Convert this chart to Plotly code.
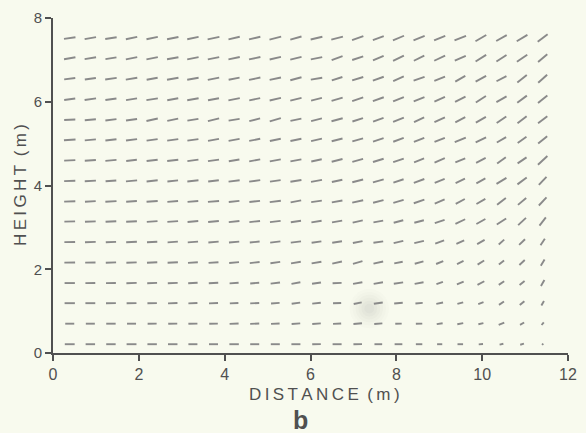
import math
import plotly.graph_objects as go

# Grid of measurement points (m)
x_pos = [0.39, 0.87, 1.35, 1.83, 2.31, 2.79, 3.26, 3.74, 4.22, 4.70, 5.18, 5.66,
         6.14, 6.62, 7.10, 7.58, 8.05, 8.53, 9.01, 9.49, 9.97, 10.45, 10.93, 11.41]
y_pos = [0.21, 0.70, 1.19, 1.67, 2.16, 2.65, 3.14, 3.62, 4.11, 4.60, 5.09, 5.57,
         6.06, 6.55, 7.04, 7.52]

# Flow inclination (degrees above horizontal), one row per height, bottom to top
angle_deg = [
    [0, 0, 0, 0, 0, 0, 0, 0, 0, 0, 0, 0, 1, 0, 1, 0, 0, 0, 0, 0, 4, 12, 16, 45],
    [0, 0, 0, 0, 1, 1, 1, 1, 2, 2, 2, 4, 4, 3, 5, 5, 2, 2, 9, 11, 12, 22, 29, 50],
    [0, 0, 1, 1, 1, 2, 2, 2, 3, 3, 4, 8, 6, 2, 12, 8, 5, 5, 11, 15, 20, 34, 40, 60],
    [0, 1, 1, 2, 2, 2, 3, 3, 4, 5, 7, 10, 8, 2, 10, 10, 8, 10, 19, 22, 28, 34, 39, 60],
    [1, 1, 2, 2, 3, 3, 4, 4, 5, 6, 8, 9, 10, 12, 16, 12, 11, 15, 22, 27, 32, 37, 43, 59],
    [1, 2, 2, 3, 3, 4, 4, 5, 5, 6, 7, 7, 8, 9, 11, 8, 13, 13, 20, 24, 30, 41, 44, 56],
    [1, 2, 3, 3, 4, 4, 5, 5, 6, 6, 7, 8, 9, 10, 12, 10, 15, 15, 18, 25, 29, 33, 43, 52],
    [2, 3, 3, 4, 4, 5, 5, 5, 6, 6, 7, 11, 8, 10, 12, 14, 16, 19, 23, 28, 30, 38, 40, 47],
    [2, 3, 4, 5, 6, 6, 6, 7, 7, 8, 8, 9, 10, 12, 14, 16, 18, 20, 22, 25, 29, 31, 37, 47],
    [3, 4, 5, 6, 7, 7, 8, 8, 9, 10, 11, 11, 12, 14, 15, 17, 19, 21, 23, 23, 27, 36, 34, 43],
    [4, 5, 6, 7, 8, 8, 8, 10, 10, 11, 12, 12, 13, 14, 16, 18, 20, 22, 22, 23, 26, 30, 35, 39],
    [2, 5, 7, 8, 12, 12, 9, 14, 9, 15, 17, 12, 14, 15, 18, 20, 22, 25, 25, 27, 30, 34, 38, 37],
    [8, 8, 8, 9, 9, 10, 10, 10, 11, 12, 13, 14, 14, 17, 18, 20, 22, 22, 24, 26, 33, 29, 37, 39],
    [7, 8, 8, 9, 10, 10, 10, 11, 11, 12, 12, 15, 9, 18, 17, 20, 24, 19, 22, 30, 29, 27, 38, 42],
    [10, 9, 9, 11, 11, 10, 11, 11, 12, 12, 13, 14, 11, 20, 18, 23, 26, 26, 25, 24, 32, 33, 34, 40],
    [8, 10, 9, 12, 12, 11, 12, 12, 13, 13, 14, 16, 13, 14, 20, 20, 23, 22, 22, 22, 30, 29, 31, 37],
]

# Relative flow magnitude, drawn as segment length (m on the distance scale)
seg_len = [
    [0.23, 0.22, 0.22, 0.23, 0.22, 0.22, 0.21, 0.21, 0.22, 0.21, 0.21, 0.21, 0.20, 0.21, 0.20, 0.18, 0.18, 0.15, 0.12, 0.13, 0.10, 0.09, 0.09, 0.04],
    [0.21, 0.21, 0.22, 0.21, 0.21, 0.21, 0.21, 0.20, 0.21, 0.21, 0.20, 0.20, 0.20, 0.19, 0.20, 0.19, 0.15, 0.15, 0.14, 0.14, 0.12, 0.14, 0.11, 0.08],
    [0.24, 0.23, 0.23, 0.23, 0.22, 0.22, 0.21, 0.21, 0.20, 0.21, 0.20, 0.20, 0.20, 0.19, 0.19, 0.21, 0.20, 0.17, 0.16, 0.14, 0.13, 0.14, 0.14, 0.12],
    [0.24, 0.23, 0.23, 0.24, 0.23, 0.23, 0.22, 0.22, 0.21, 0.21, 0.22, 0.21, 0.21, 0.21, 0.22, 0.22, 0.22, 0.21, 0.16, 0.17, 0.18, 0.15, 0.15, 0.16],
    [0.25, 0.24, 0.24, 0.24, 0.24, 0.24, 0.23, 0.23, 0.23, 0.23, 0.23, 0.23, 0.23, 0.23, 0.23, 0.23, 0.20, 0.21, 0.18, 0.17, 0.18, 0.15, 0.17, 0.17],
    [0.25, 0.25, 0.24, 0.25, 0.24, 0.24, 0.24, 0.24, 0.24, 0.23, 0.24, 0.24, 0.23, 0.23, 0.23, 0.23, 0.23, 0.23, 0.22, 0.20, 0.20, 0.17, 0.19, 0.18],
    [0.25, 0.25, 0.25, 0.25, 0.25, 0.25, 0.25, 0.25, 0.25, 0.25, 0.25, 0.24, 0.24, 0.24, 0.24, 0.23, 0.23, 0.23, 0.24, 0.25, 0.24, 0.26, 0.25, 0.24],
    [0.26, 0.25, 0.26, 0.25, 0.26, 0.25, 0.25, 0.26, 0.25, 0.25, 0.26, 0.25, 0.25, 0.25, 0.26, 0.25, 0.25, 0.26, 0.25, 0.24, 0.24, 0.26, 0.25, 0.26],
    [0.26, 0.26, 0.25, 0.26, 0.26, 0.25, 0.26, 0.25, 0.26, 0.26, 0.25, 0.26, 0.26, 0.25, 0.26, 0.26, 0.25, 0.26, 0.25, 0.24, 0.24, 0.27, 0.27, 0.26],
    [0.26, 0.26, 0.26, 0.25, 0.26, 0.26, 0.26, 0.26, 0.25, 0.26, 0.26, 0.26, 0.25, 0.26, 0.26, 0.26, 0.26, 0.25, 0.26, 0.25, 0.25, 0.25, 0.25, 0.30],
    [0.27, 0.26, 0.26, 0.26, 0.26, 0.26, 0.26, 0.26, 0.26, 0.26, 0.26, 0.26, 0.26, 0.26, 0.26, 0.26, 0.26, 0.26, 0.26, 0.28, 0.27, 0.25, 0.25, 0.27],
    [0.26, 0.26, 0.26, 0.26, 0.27, 0.26, 0.26, 0.27, 0.26, 0.26, 0.27, 0.26, 0.26, 0.27, 0.26, 0.26, 0.27, 0.26, 0.27, 0.26, 0.27, 0.27, 0.27, 0.27],
    [0.26, 0.27, 0.26, 0.26, 0.27, 0.26, 0.27, 0.26, 0.27, 0.26, 0.27, 0.27, 0.26, 0.27, 0.27, 0.27, 0.27, 0.27, 0.27, 0.27, 0.28, 0.27, 0.28, 0.28],
    [0.26, 0.26, 0.27, 0.27, 0.26, 0.27, 0.27, 0.27, 0.26, 0.27, 0.27, 0.27, 0.27, 0.26, 0.27, 0.27, 0.27, 0.27, 0.27, 0.27, 0.28, 0.26, 0.28, 0.28],
    [0.27, 0.27, 0.26, 0.27, 0.27, 0.27, 0.27, 0.27, 0.27, 0.27, 0.27, 0.27, 0.27, 0.27, 0.27, 0.27, 0.28, 0.27, 0.28, 0.28, 0.29, 0.28, 0.29, 0.28],
    [0.27, 0.27, 0.27, 0.27, 0.27, 0.27, 0.27, 0.28, 0.27, 0.27, 0.28, 0.27, 0.28, 0.28, 0.28, 0.27, 0.28, 0.28, 0.28, 0.29, 0.29, 0.28, 0.29, 0.29],
]

x_ticks = [0, 2, 4, 6, 8, 10, 12]
y_ticks = [0, 2, 4, 6, 8]

W, H = 586, 433
ML, MR, MT, MB = 53, 9, 12, 80
X_RANGE = [0, 12]
Y_RANGE = [0, 8]

# pixels per metre on each axis, so segments keep their true inclination on screen
px_per_x = (W - ML - MR) / (X_RANGE[1] - X_RANGE[0])
px_per_y = (H - MT - MB) / (Y_RANGE[1] - Y_RANGE[0])
y_per_x = px_per_x / px_per_y

seg_x, seg_y = [], []
for j, yc in enumerate(y_pos):
    for k, xc in enumerate(x_pos):
        a = math.radians(angle_deg[j][k])
        half = seg_len[j][k] / 2.0
        dx = half * math.cos(a)
        dy = half * math.sin(a) * y_per_x
        seg_x += [xc - dx, xc + dx, None]
        seg_y += [yc - dy, yc + dy, None]

BG = "#f8faee"
INK = "#505050"
SEG = "#8a8a8a"
FONT = "Liberation Sans"

fig = go.Figure()
fig.add_trace(go.Scatter(
    x=seg_x, y=seg_y, mode="lines",
    line=dict(color=SEG, width=1.9),
    hoverinfo="skip", showlegend=False,
))

# faint grey blot on the sheet near (7.4 m, 1.1 m), built from stacked translucent discs
blot_x, blot_y = 7.37, 1.06
for r_px, alpha in [(20, 0.018), (17, 0.022), (14, 0.026), (11, 0.03), (8, 0.034), (5, 0.036)]:
    rx, ry = r_px / px_per_x, r_px / px_per_y
    fig.add_shape(type="circle", xref="x", yref="y",
                  x0=blot_x - rx, x1=blot_x + rx, y0=blot_y - ry, y1=blot_y + ry,
                  line=dict(width=0), fillcolor=f"rgba(120,120,120,{alpha})",
                  layer="below")

axis_common = dict(
    showline=True, linecolor=INK, linewidth=2,
    ticks="outside", ticklen=6, tickwidth=1.5, tickcolor=INK,
    showgrid=False, zeroline=False, mirror=False,
)

fig.update_layout(
    width=W, height=H,
    margin=dict(l=ML, r=MR, t=MT, b=MB),
    paper_bgcolor=BG, plot_bgcolor=BG,
    showlegend=False,
    xaxis=dict(range=X_RANGE, tickvals=x_ticks, ticktext=[str(v) for v in x_ticks],
               tickfont=dict(family=FONT, size=16, color=INK), **axis_common),
    yaxis=dict(range=Y_RANGE, tickvals=y_ticks, ticktext=[str(v) for v in y_ticks],
               tickfont=dict(family=FONT, size=15, color=INK), **axis_common),
)

sp = "\u2009"
fig.add_annotation(
    text=sp.join("HEIGHT") + "\u2002" + sp.join("(m)"),
    xref="paper", yref="paper", x=-0.063, y=0.5,
    xanchor="center", yanchor="middle", textangle=-90, showarrow=False,
    font=dict(family=FONT, size=17, color=INK),
)
fig.add_annotation(
    text=sp.join("DISTANCE") + "\u2002" + sp.join("(m)"),
    xref="paper", yref="paper", x=0.527, y=-0.125,
    xanchor="center", yanchor="middle", showarrow=False,
    font=dict(family=FONT, size=17, color=INK),
)
fig.add_annotation(
    text="<b>b</b>",
    xref="paper", yref="paper", x=0.48, y=-0.2,
    xanchor="center", yanchor="middle", showarrow=False,
    font=dict(family=FONT, size=25, color=INK),
)

fig.write_html("out.html")
